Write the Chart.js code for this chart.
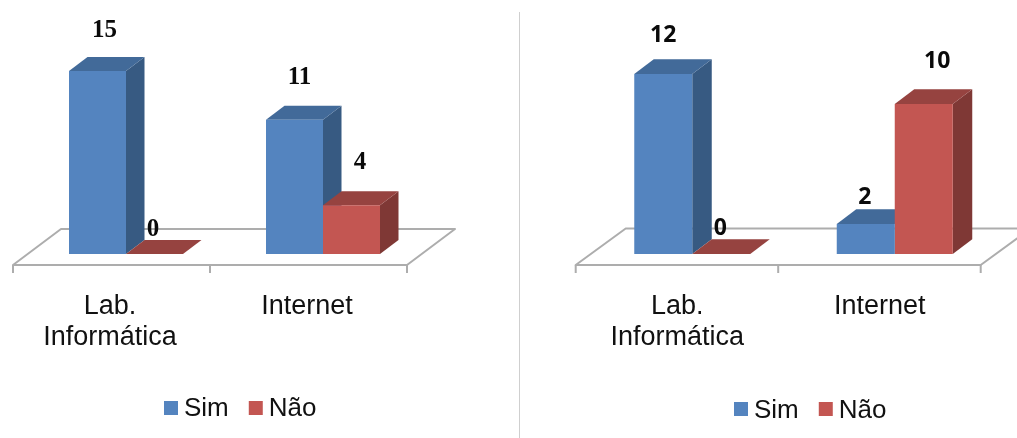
<!DOCTYPE html>
<html lang="pt">
<head>
<meta charset="utf-8">
<title>Lab. Informática e Internet</title>
<script src="https://cdn.jsdelivr.net/npm/chart.js@4"></script>
<style>
  html, body { margin: 0; padding: 0; background: #fff; overflow: hidden; }
  #page { position: relative; width: 1017px; height: 438px; }
  canvas { position: absolute; top: 0; }
  #left { left: 0; }
  #right { left: 510px; }
  #divider { position: absolute; left: 519px; top: 12px; width: 1px; height: 426px; background: #cfcfcf; }
</style>
</head>
<body>
<div id="page">
  <canvas id="left" width="510" height="438"></canvas>
  <canvas id="right" width="507" height="438"></canvas>
  <div id="divider"></div>
</div>
<script>
const categories = [['Lab.', 'Informática'], 'Internet'];
const seriesNames = ['Sim', 'Não'];
const simLeft = [15, 11];
const naoLeft = [0, 4];
const simRight = [12, 2];
const naoRight = [0, 10];

const frontColors = ['#5484BF', '#C35652'];
const topColors = ['#426A99', '#964340'];
const sideColors = ['#375A82', '#7F3835'];
const FLOOR_LINE = '#adadad';

// Extrudes each bar and lays out the floor, value labels and legend around it.
const prism = {
  id: 'prism',
  beforeDatasetsDraw(chart, args, o) {
    const { ctx, chartArea: a } = chart;
    const f = o.floor;
    const fx0 = a.left + f.shiftX, fx1 = a.right + f.shiftX, fy = a.bottom + f.shiftY;
    ctx.save();
    ctx.strokeStyle = FLOOR_LINE;
    ctx.lineWidth = 2;
    ctx.lineJoin = 'round';
    ctx.beginPath();
    ctx.moveTo(fx0, fy);
    ctx.lineTo(fx0 + f.depthX, fy - f.depthY);
    ctx.lineTo(fx1 + f.depthX, fy - f.depthY);
    ctx.lineTo(fx1, fy);
    ctx.closePath();
    ctx.stroke();
    // tick marks hang from the front edge of the floor
    const step = (fx1 - fx0) / categories.length;
    for (let i = 0; i <= categories.length; i++) {
      ctx.beginPath();
      ctx.moveTo(fx0 + i * step, fy);
      ctx.lineTo(fx0 + i * step, fy + 8);
      ctx.stroke();
    }
    // side and top faces; the library paints the front faces afterwards
    chart.data.datasets.forEach((ds, d) => {
      chart.getDatasetMeta(d).data.forEach(el => {
        const l = el.x - el.width / 2, r = el.x + el.width / 2;
        const t = el.y, b = el.base;
        ctx.fillStyle = sideColors[d];
        ctx.beginPath();
        ctx.moveTo(r, t);
        ctx.lineTo(r + o.depthX, t - o.depthY);
        ctx.lineTo(r + o.depthX, b - o.depthY);
        ctx.lineTo(r, b);
        ctx.closePath();
        ctx.fill();
        ctx.fillStyle = topColors[d];
        ctx.beginPath();
        ctx.moveTo(l, t);
        ctx.lineTo(l + o.depthX, t - o.depthY);
        ctx.lineTo(r + o.depthX, t - o.depthY);
        ctx.lineTo(r, t);
        ctx.closePath();
        ctx.fill();
      });
    });
    ctx.restore();
  },
  afterDatasetsDraw(chart, args, o) {
    const { ctx } = chart;
    ctx.save();
    // value labels, nudged individually above each prism
    ctx.fillStyle = '#0a0a0a';
    ctx.font = o.valueFont;
    ctx.textAlign = 'center';
    ctx.textBaseline = 'middle';
    chart.data.datasets.forEach((ds, d) => {
      chart.getDatasetMeta(d).data.forEach((el, i) => {
        const [dx, dy] = o.labelNudge[d][i];
        ctx.fillText(String(ds.data[i]), el.x + dx, el.y + dy);
      });
    });
    // compact legend: square, short gap, series name
    const lg = o.legend;
    ctx.font = lg.font;
    ctx.textAlign = 'left';
    ctx.textBaseline = 'alphabetic';
    let x = lg.x;
    chart.data.datasets.forEach((ds, d) => {
      ctx.fillStyle = frontColors[d];
      ctx.fillRect(x, lg.boxTop, 14, 14);
      ctx.fillStyle = '#111';
      ctx.fillText(ds.label, x + 20, lg.baseline);
      x += 20 + ctx.measureText(ds.label).width + 20;
    });
    ctx.restore();
  }
};

function buildChart(id, sim, nao, s) {
  return new Chart(document.getElementById(id), {
    type: 'bar',
    plugins: [prism],
    data: {
      labels: categories,
      datasets: [
        { label: seriesNames[0], data: sim, backgroundColor: frontColors[0] },
        { label: seriesNames[1], data: nao, backgroundColor: frontColors[1] }
      ]
    },
    options: {
      responsive: false,
      animation: false,
      events: [],
      categoryPercentage: s.groupShare,
      barPercentage: 1,
      layout: {
        autoPadding: false,
        padding: { left: s.left, right: s.right, top: s.top, bottom: 0 }
      },
      scales: {
        x: {
          grid: { display: false, drawTicks: false },
          border: { display: false },
          afterFit(scale) { scale.height = 438 - 254; },
          ticks: {
            color: '#111',
            font: { family: '"Liberation Sans", Arial, sans-serif', size: 27, lineHeight: 1.15 },
            padding: s.labelPad,
            labelOffset: s.labelShift,
            maxRotation: 0,
            autoSkip: false
          }
        },
        y: { display: false, min: 0, max: s.max }
      },
      plugins: {
        legend: { display: false },
        tooltip: { enabled: false },
        prism: {
          depthX: s.depthX,
          depthY: s.depthY,
          floor: s.floor,
          valueFont: s.valueFont,
          labelNudge: s.labelNudge,
          legend: s.legend
        }
      }
    }
  });
}

buildChart('left', simLeft, naoLeft, {
  left: 27.5, right: 88.5, top: 71, max: 15,
  groupShare: 114 / 197,
  depthX: 18.5, depthY: 14,
  labelPad: 37, labelShift: -16,
  floor: { shiftX: -14.5, shiftY: 11, depthX: 48, depthY: 36 },
  valueFont: 'bold 25px "Liberation Serif", "Times New Roman", serif',
  labelNudge: [[[7, -40], [5, -42]], [[-1.5, -24], [8.5, -42.5]]],
  legend: { x: 164, boxTop: 401, baseline: 416, font: '26px "Liberation Sans", Arial, sans-serif' }
});

buildChart('right', simRight, naoRight, {
  left: 81, right: 21, top: 74, max: 12,
  groupShare: 116 / 202.5,
  depthX: 19.5, depthY: 14.7,
  labelPad: 37, labelShift: -15,
  floor: { shiftX: -15.3, shiftY: 11, depthX: 50, depthY: 36.5 },
  valueFont: 'bold 23px "Noto Sans", "Open Sans", sans-serif',
  labelNudge: [[[0, -39], [-1, -26.5]], [[-1, -25.5], [13.5, -42.5]]],
  legend: { x: 224, boxTop: 402, baseline: 418, font: '26px "Liberation Sans", Arial, sans-serif' }
});
</script>
</body>
</html>
